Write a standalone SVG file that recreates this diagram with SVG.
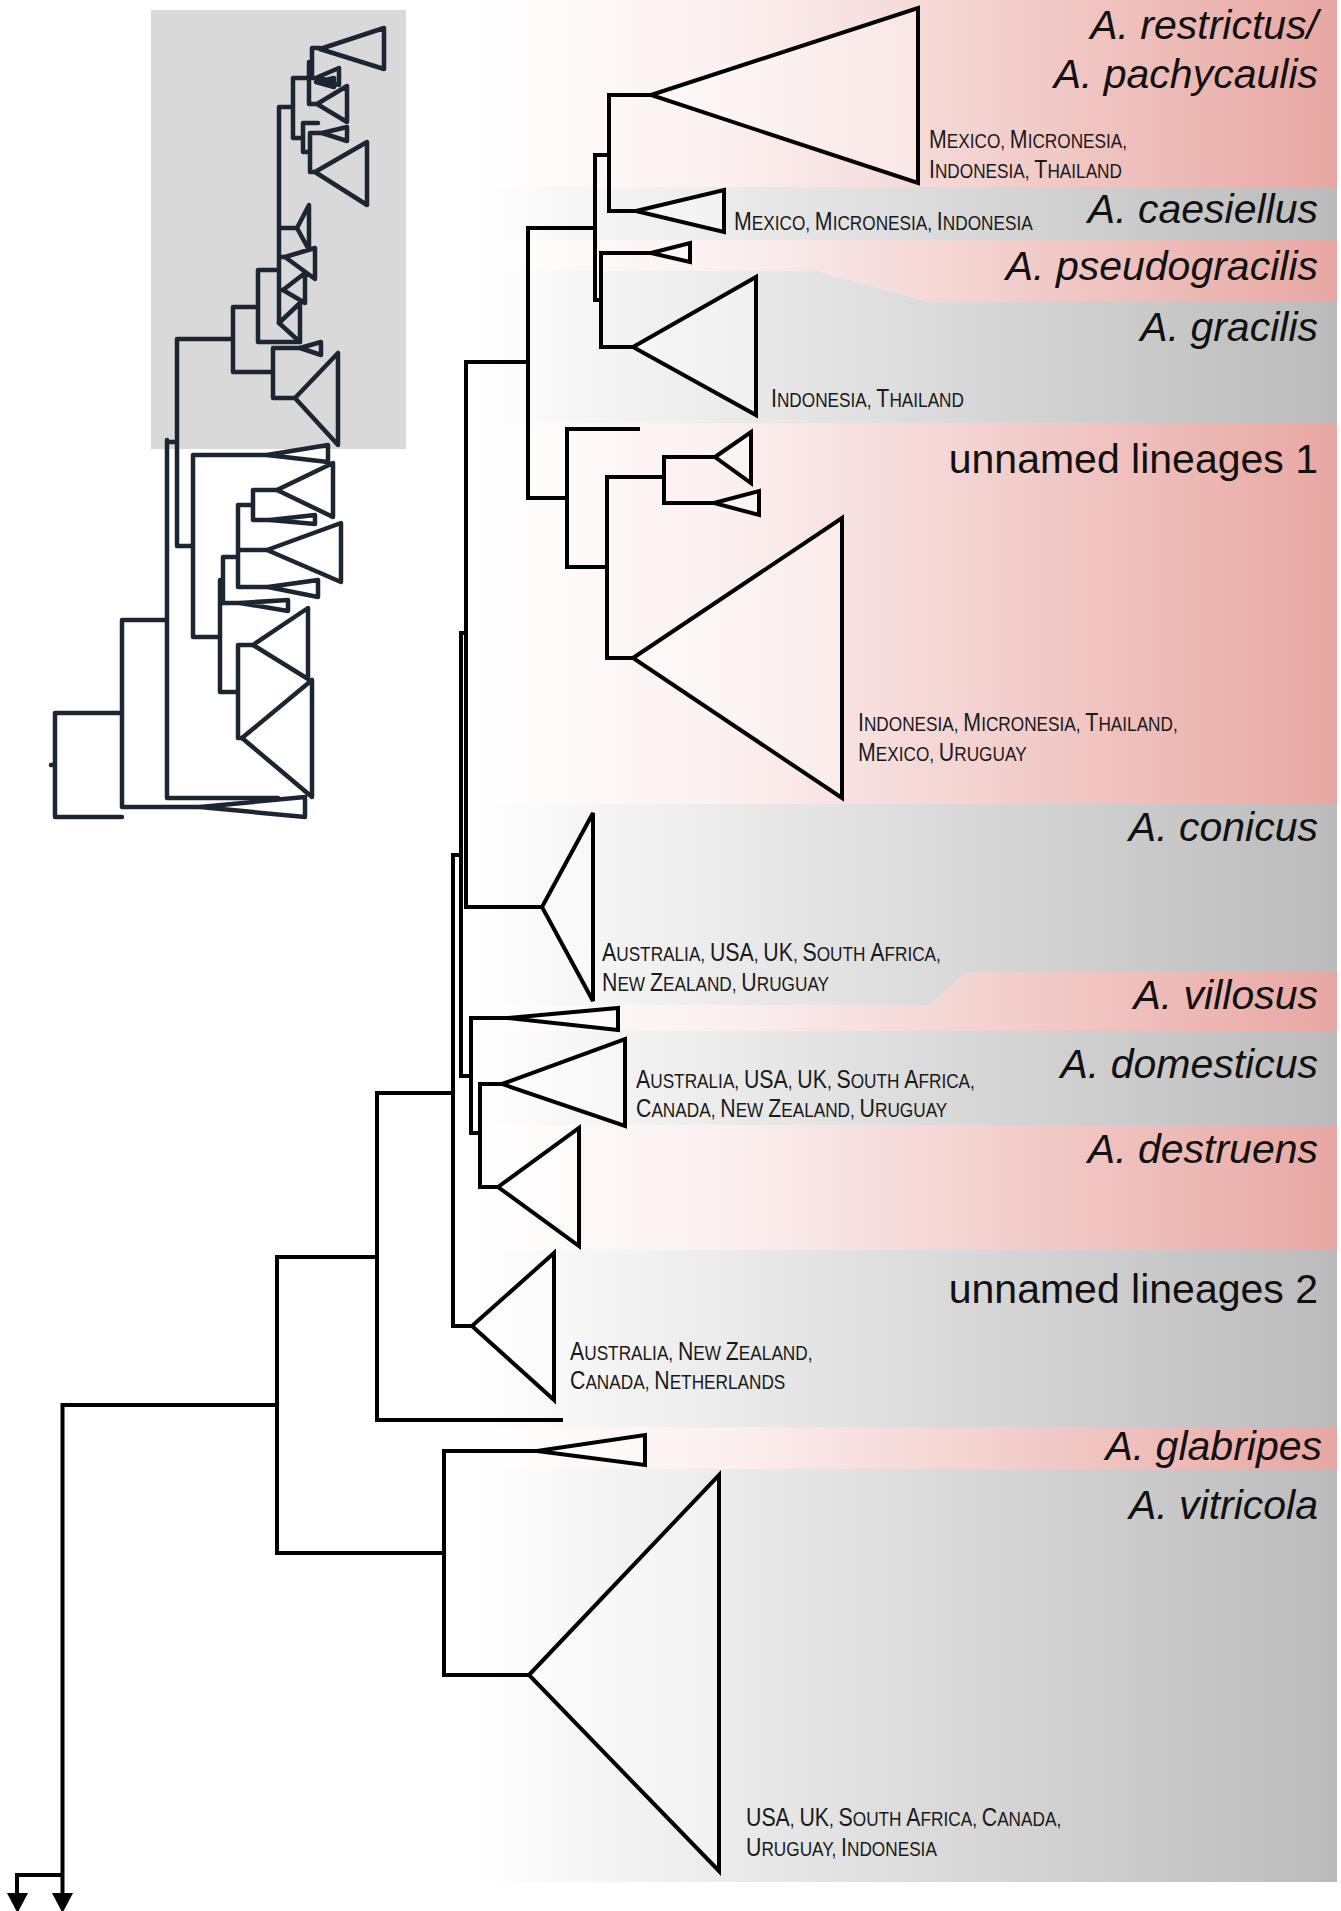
<svg xmlns="http://www.w3.org/2000/svg" width="1341" height="1911" viewBox="0 0 1341 1911">
<defs>
<linearGradient id="gp" gradientUnits="userSpaceOnUse" x1="470" y1="0" x2="1337" y2="0"><stop offset="0" stop-color="#ffffff"/><stop offset="0.3" stop-color="#fbf0ef"/><stop offset="1" stop-color="#e8a7a2"/></linearGradient>
<linearGradient id="gg" gradientUnits="userSpaceOnUse" x1="470" y1="0" x2="1337" y2="0"><stop offset="0" stop-color="#ffffff"/><stop offset="1" stop-color="#bbbbbb"/></linearGradient>
<style>
.bp{fill:url(#gp)}
.bg{fill:url(#gg)}
.e{stroke:#000;stroke-width:4;fill:none;stroke-linecap:square;stroke-linejoin:miter}
.tri{stroke:#000;stroke-width:4;fill:#fff;fill-opacity:.35;stroke-linejoin:miter}
.i{stroke:#1c2632;stroke-width:4.5;fill:none;stroke-linecap:round;stroke-linejoin:round}
.sp{font-family:"Liberation Sans",Arial,sans-serif;font-style:italic;font-size:41px;text-anchor:end;fill:#111}
.un{font-family:"Liberation Sans",Arial,sans-serif;font-size:41px;text-anchor:end;fill:#111}
.ct{font-family:"Liberation Sans",Arial,sans-serif;font-size:21px;fill:#1a1a1a}
.c{font-size:26px}
</style>
</defs>
<rect width="1341" height="1911" fill="#fff"/>
<g id="bands">
<rect class="bp" x="470" y="0" width="867" height="187"/>
<rect class="bg" x="470" y="187" width="867" height="53"/>
<polygon class="bp" points="470,240 1337,240 1337,302 930,302 818,271 470,271"/>
<polygon class="bg" points="470,271 818,271 930,302 1337,302 1337,423 470,423"/>
<rect class="bp" x="470" y="423" width="867" height="381"/>
<polygon class="bg" points="470,804 1337,804 1337,972 967,972 930,1005 470,1005"/>
<polygon class="bp" points="470,1005 930,1005 967,972 1337,972 1337,1031 470,1031"/>
<rect class="bg" x="470" y="1031" width="867" height="94"/>
<rect class="bp" x="470" y="1125" width="867" height="125"/>
<rect class="bg" x="470" y="1250" width="867" height="177"/>
<rect class="bp" x="470" y="1427" width="867" height="42"/>
<rect class="bg" x="470" y="1469" width="867" height="413"/>
</g>
<g id="inset">
<rect x="151" y="10" width="255" height="439" fill="#d9d9d9"/>
<path class="i" d="M312,48H320M312,48V78M312,78H318M309,62V104M309,104H317M293,78H309M293,78V138M279,107H293M293,138H303M303,123V152M303,123H318M303,152H310M310,133V172M310,133H322M310,172H315M279,107V323M279,228H297M279,257H285M279,290H283M258,270H279M258,270V342M258,342H300M233,307H258M233,307V372M233,372H273M273,348V398M273,348H300M273,398H295M177,339H233M177,339V546M167,442H177M167,440V798M177,546H193M193,455V637M193,455H267M193,637H220M220,580V692M220,580H223M223,557V603M223,603H240M223,557H238M238,505V587M238,505H253M253,490V520M253,490H277M253,520H270M238,550H267M238,587H268M220,692H238M238,645V738M238,645H253M238,738H242M167,798H278M122,620H167M122,620V807M122,807H200M55,713H122M55,713V817M55,817H122M51,765H55"/>
<path class="i" d="M320,49L384,28V69ZM318,77L339,68V85ZM316,82L334,78V87ZM317,104L347,86V122ZM322,133L347,127V141ZM315,172L367,142V205ZM297,228L309,205V250ZM285,257L315,248V279ZM283,290L305,273V303ZM279,323L300,303V342ZM300,348L321,342V355ZM295,398L338,353V445ZM267,455L328,445V462ZM240,603L288,600V611ZM277,490L333,463V517ZM270,520L315,515V524ZM267,550L341,523V582ZM268,587L318,580V597ZM253,645L308,608V679ZM242,738L312,680V797ZM200,807L305,797V817Z"/>
</g>
<g id="connectors">
<path class="e" d="M609,95V211M609,95H651M609,211H636M601,253V347M601,253H651M601,347H633M595,155V300M595,155H609M595,300H601M528,228V498M528,228H595M528,498H567M567,429V567M567,429H638M567,567H607M607,477V658M607,477H664M607,658H633M664,457V503M664,457H715M664,503H714M466,362V907M466,362H528M466,907H542M461,633V1076M461,633H466M461,1076H471M471,1018V1133M471,1018H508M471,1133H480M480,1084V1187M480,1084H502M480,1187H498M453,855V1326M453,855H461M453,1326H472M377,1093V1420M377,1093H453M377,1420H561M444,1451V1675M444,1451H537M444,1675H529M277,1257V1553M277,1257H377M277,1553H444M62.5,1405V1893M62.5,1405H277M17,1875H62.5M17,1875V1893"/>
<polygon points="7,1893 28,1893 17.5,1913" fill="#000"/>
<polygon points="52,1893 73,1893 62.5,1913" fill="#000"/>
</g>
<g id="node-restrictus">
<path class="tri" d="M651,95L918,8V183Z"/>
<text class="sp" x="1318" y="39">A. restrictus/</text>
<text class="sp" x="1318" y="88">A. pachycaulis</text>
<text class="ct" transform="translate(929,148) scale(0.82,1)"><tspan class="c">M</tspan>EXICO, <tspan class="c">M</tspan>ICRONESIA,</text>
<text class="ct" transform="translate(929,178) scale(0.82,1)"><tspan class="c">I</tspan>NDONESIA, <tspan class="c">T</tspan>HAILAND</text>
</g>
<g id="node-caesiellus">
<path class="tri" d="M636,211L724,190V232Z"/>
<text class="sp" x="1318" y="223">A. caesiellus</text>
<text class="ct" transform="translate(734,230) scale(0.82,1)"><tspan class="c">M</tspan>EXICO, <tspan class="c">M</tspan>ICRONESIA, <tspan class="c">I</tspan>NDONESIA</text>
</g>
<g id="node-pseudogracilis">
<path class="tri" d="M651,253L690,243V262Z"/>
<text class="sp" x="1318" y="280">A. pseudogracilis</text>
</g>
<g id="node-gracilis">
<path class="tri" d="M633,347L756,277V415Z"/>
<text class="sp" x="1318" y="341">A. gracilis</text>
<text class="ct" transform="translate(771,407) scale(0.82,1)"><tspan class="c">I</tspan>NDONESIA, <tspan class="c">T</tspan>HAILAND</text>
</g>
<g id="node-unnamed1">
<path class="tri" d="M715,457L751,432V483Z"/>
<path class="tri" d="M714,503L759,491V515Z"/>
<path class="tri" d="M633,658L842,518V798Z"/>
<text class="un" x="1318" y="473">unnamed lineages 1</text>
<text class="ct" transform="translate(858,731) scale(0.82,1)"><tspan class="c">I</tspan>NDONESIA, <tspan class="c">M</tspan>ICRONESIA, <tspan class="c">T</tspan>HAILAND,</text>
<text class="ct" transform="translate(858,761) scale(0.82,1)"><tspan class="c">M</tspan>EXICO, <tspan class="c">U</tspan>RUGUAY</text>
</g>
<g id="node-conicus">
<path class="tri" d="M542,907L593,813V1001Z"/>
<text class="sp" x="1318" y="841">A. conicus</text>
<text class="ct" transform="translate(602,961) scale(0.82,1)"><tspan class="c">A</tspan>USTRALIA, <tspan class="c">USA</tspan>, <tspan class="c">UK</tspan>, <tspan class="c">S</tspan>OUTH <tspan class="c">A</tspan>FRICA,</text>
<text class="ct" transform="translate(602,991) scale(0.82,1)"><tspan class="c">N</tspan>EW <tspan class="c">Z</tspan>EALAND, <tspan class="c">U</tspan>RUGUAY</text>
</g>
<g id="node-villosus">
<path class="tri" d="M508,1018L618,1008V1030Z"/>
<text class="sp" x="1318" y="1009">A. villosus</text>
</g>
<g id="node-domesticus">
<path class="tri" d="M502,1084L625,1039V1126Z"/>
<text class="sp" x="1318" y="1078">A. domesticus</text>
<text class="ct" transform="translate(636,1088) scale(0.82,1)"><tspan class="c">A</tspan>USTRALIA, <tspan class="c">USA</tspan>, <tspan class="c">UK</tspan>, <tspan class="c">S</tspan>OUTH <tspan class="c">A</tspan>FRICA,</text>
<text class="ct" transform="translate(636,1117) scale(0.82,1)"><tspan class="c">C</tspan>ANADA, <tspan class="c">N</tspan>EW <tspan class="c">Z</tspan>EALAND, <tspan class="c">U</tspan>RUGUAY</text>
</g>
<g id="node-destruens">
<path class="tri" d="M498,1187L579,1128V1246Z"/>
<text class="sp" x="1318" y="1163">A. destruens</text>
</g>
<g id="node-unnamed2">
<path class="tri" d="M472,1326L554,1253V1400Z"/>
<text class="un" x="1318" y="1303">unnamed lineages 2</text>
<text class="ct" transform="translate(570,1360) scale(0.82,1)"><tspan class="c">A</tspan>USTRALIA, <tspan class="c">N</tspan>EW <tspan class="c">Z</tspan>EALAND,</text>
<text class="ct" transform="translate(570,1389) scale(0.82,1)"><tspan class="c">C</tspan>ANADA, <tspan class="c">N</tspan>ETHERLANDS</text>
</g>
<g id="node-glabripes">
<path class="tri" d="M537,1451L645,1435V1465Z"/>
<text class="sp" x="1322" y="1460">A. glabripes</text>
</g>
<g id="node-vitricola">
<path class="tri" d="M529,1675L719,1475V1871Z"/>
<text class="sp" x="1318" y="1519">A. vitricola</text>
<text class="ct" transform="translate(746,1826) scale(0.82,1)"><tspan class="c">USA</tspan>, <tspan class="c">UK</tspan>, <tspan class="c">S</tspan>OUTH <tspan class="c">A</tspan>FRICA, <tspan class="c">C</tspan>ANADA,</text>
<text class="ct" transform="translate(746,1856) scale(0.82,1)"><tspan class="c">U</tspan>RUGUAY, <tspan class="c">I</tspan>NDONESIA</text>
</g>
</svg>
